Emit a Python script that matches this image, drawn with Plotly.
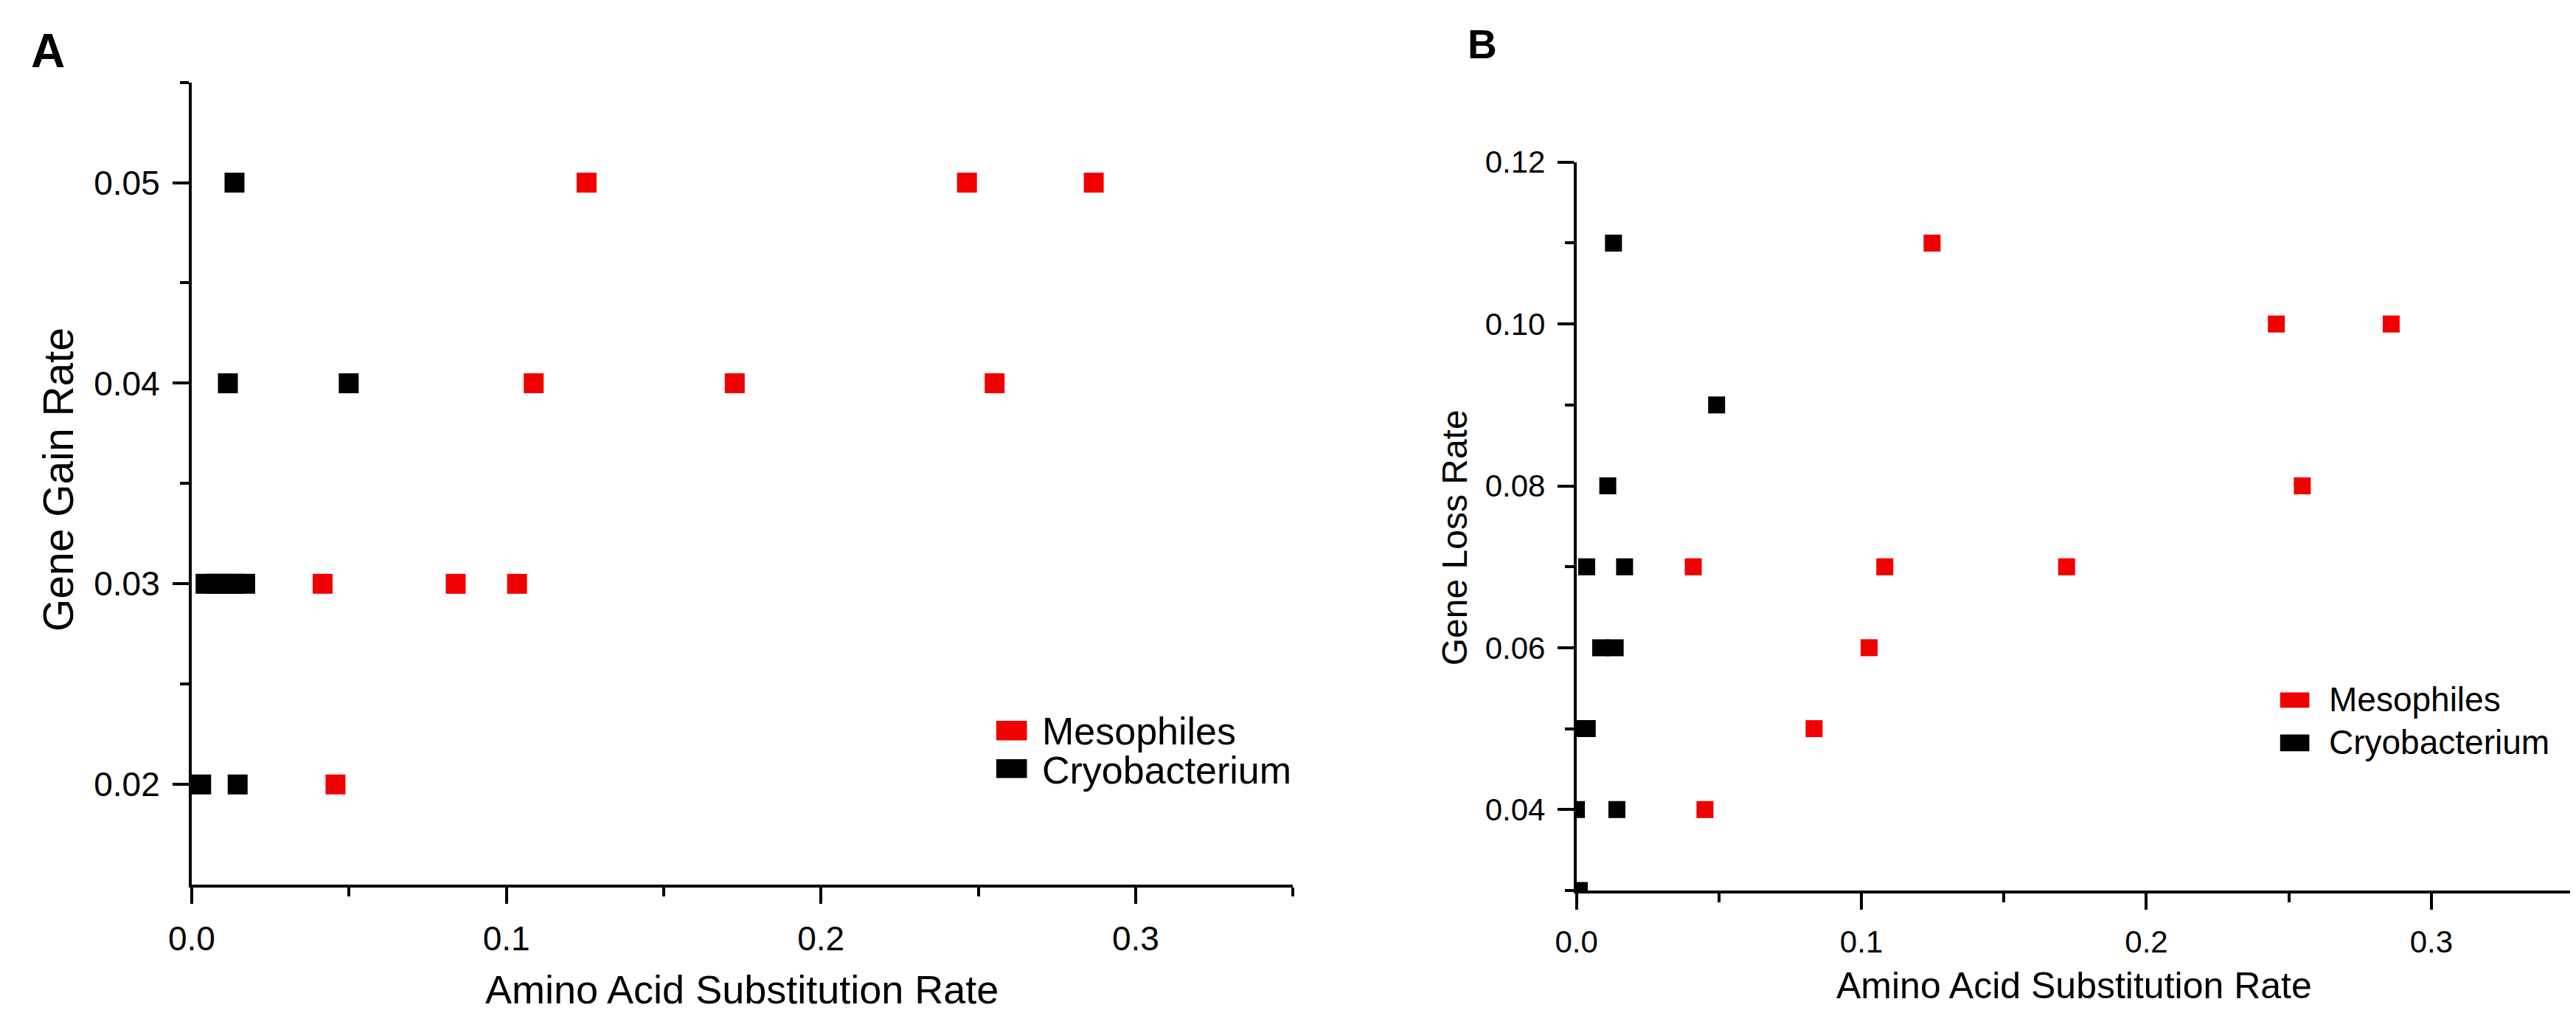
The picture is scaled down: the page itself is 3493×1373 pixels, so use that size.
import plotly.graph_objects as go

W, H = 3493, 1373

# panel A: gene gain rate vs amino acid substitution rate
meso_gain_x = [0.1255, 0.2464, 0.2867, 0.1087, 0.1726, 0.2552, 0.0416, 0.0839, 0.1034, 0.0457]
meso_gain_y = [0.05, 0.05, 0.05, 0.04, 0.04, 0.04, 0.03, 0.03, 0.03, 0.02]
cryo_gain_x = [0.0136, 0.0115, 0.0499, 0.0044, 0.0075, 0.0105, 0.0137, 0.0170, 0.0030, 0.0146]
cryo_gain_y = [0.05, 0.04, 0.04, 0.03, 0.03, 0.03, 0.03, 0.03, 0.02, 0.02]

# panel B: gene loss rate vs amino acid substitution rate
meso_loss_x = [0.1248, 0.2456, 0.2859, 0.2547, 0.0410, 0.1082, 0.1720, 0.1027, 0.0834, 0.0451]
meso_loss_y = [0.11, 0.10, 0.10, 0.08, 0.07, 0.07, 0.07, 0.06, 0.05, 0.04]
cryo_loss_x = [0.0130, 0.0492, 0.0110, 0.0036, 0.0169, 0.0085, 0.0136, 0.0010, 0.0038, 0.0000, 0.0142, 0.0010]
cryo_loss_y = [0.11, 0.09, 0.08, 0.07, 0.07, 0.06, 0.06, 0.05, 0.05, 0.04, 0.04, 0.03]

x_ticks = [0.0, 0.1, 0.2, 0.3]
x_tick_text = ["0.0", "0.1", "0.2", "0.3"]
x_minor = [0.05, 0.15, 0.25, 0.35]
gain_ticks = [0.02, 0.03, 0.04, 0.05]
gain_minor = [0.025, 0.035, 0.045, 0.055]
loss_ticks = [0.04, 0.06, 0.08, 0.10, 0.12]
loss_tick_text = ["0.04", "0.06", "0.08", "0.10", "0.12"]
loss_minor = [0.03, 0.05, 0.07, 0.09, 0.11]

RED = "#f00000"
FONT = "Liberation Sans, Arial, sans-serif"


def px(x):
    return x / W


def py(y):
    return 1 - y / H


fig = go.Figure()
fig.add_trace(go.Scatter(x=cryo_gain_x, y=cryo_gain_y, mode="markers", xaxis="x", yaxis="y",
                         marker=dict(symbol="square", size=27, color="black", line=dict(width=0))))
fig.add_trace(go.Scatter(x=meso_gain_x, y=meso_gain_y, mode="markers", xaxis="x", yaxis="y",
                         marker=dict(symbol="square", size=27, color=RED, line=dict(width=0))))
fig.add_trace(go.Scatter(x=cryo_loss_x, y=cryo_loss_y, mode="markers", xaxis="x2", yaxis="y2",
                         marker=dict(symbol="square", size=23, color="black", line=dict(width=0))))
fig.add_trace(go.Scatter(x=meso_loss_x, y=meso_loss_y, mode="markers", xaxis="x2", yaxis="y2",
                         marker=dict(symbol="square", size=23, color=RED, line=dict(width=0))))


def axis(domain, rng, ticks, text, minor, size, lw, anchor):
    return dict(domain=domain, range=rng, anchor=anchor, showgrid=False, zeroline=False,
                showline=True, linecolor="black", linewidth=lw, mirror=False,
                ticks="outside", ticklen=22, tickwidth=lw, tickcolor="black",
                tickvals=ticks, ticktext=text, ticklabelstandoff=8,
                tickfont=dict(family=FONT, size=size, color="black"),
                minor=dict(tickvals=minor, ticks="outside", ticklen=12, tickwidth=lw, tickcolor="black"))


fig.update_layout(
    width=W, height=H,
    margin=dict(l=0, r=0, t=0, b=0),
    paper_bgcolor="white", plot_bgcolor="white",
    showlegend=False,
    xaxis=axis([px(222), px(1729)], [0, 0.35], x_ticks, x_tick_text, x_minor, 46, 4, "y"),
    yaxis=axis([py(1188), py(82)], [0.015, 0.055], gain_ticks, None, gain_minor, 46, 4, "x"),
    xaxis2=axis([px(2117), px(3482)], [0, 0.35], x_ticks, x_tick_text, x_minor, 42, 3.5, "y2"),
    yaxis2=axis([py(1196), py(192)], [0.03, 0.12], loss_ticks, loss_tick_text, loss_minor, 42, 3.5, "x2"),
)

ann = [
    dict(text="<b>A</b>", x=px(0), y=py(0), xanchor="left", yanchor="top", font=dict(size=64)),
    dict(text="<b>B</b>", x=px(1966), y=py(-4), xanchor="left", yanchor="top", font=dict(size=55)),
    dict(text="Amino Acid Substitution Rate", x=px(975), y=py(1332), xanchor="center", yanchor="middle",
         font=dict(size=54)),
    dict(text="Gene Gain Rate", x=px(40), y=py(630), xanchor="center", yanchor="middle", textangle=-90,
         font=dict(size=57)),
    dict(text="Amino Acid Substitution Rate", x=px(2798), y=py(1327), xanchor="center", yanchor="middle",
         font=dict(size=50)),
    dict(text="Gene Loss Rate", x=px(1950), y=py(710), xanchor="center", yanchor="middle", textangle=-90,
         font=dict(size=48)),
    # legends
    dict(text="Mesophiles", x=px(1384), y=py(976), xanchor="left", yanchor="middle", font=dict(size=52)),
    dict(text="Cryobacterium", x=px(1384), y=py(1030), xanchor="left", yanchor="middle", font=dict(size=52)),
    dict(text="Mesophiles", x=px(3145), y=py(933), xanchor="left", yanchor="middle", font=dict(size=46)),
    dict(text="Cryobacterium", x=px(3145), y=py(992), xanchor="left", yanchor="middle", font=dict(size=46)),
]
for a in ann:
    a.update(xref="paper", yref="paper", showarrow=False)
    a["font"].update(family=FONT, color="black")
fig.update_layout(annotations=ann)

legend_boxes = [
    (1323, 962, 1365, 989, RED), (1323, 1015, 1365, 1041, "black"),
    (3080, 923, 3120, 944, RED), (3080, 981, 3120, 1004, "black"),
]
for x0, y0, x1, y1, c in legend_boxes:
    fig.add_shape(type="rect", xref="paper", yref="paper", x0=px(x0), x1=px(x1), y0=py(y1), y1=py(y0),
                  fillcolor=c, line=dict(width=0))

fig.write_html("out.html")
